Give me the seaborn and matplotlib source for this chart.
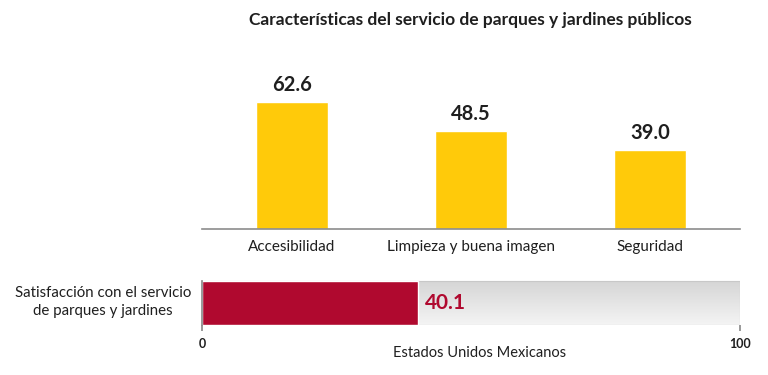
import numpy as np
import pandas as pd
import matplotlib
matplotlib.use("Agg")
import matplotlib.pyplot as plt
import seaborn as sns

categories = ["Accesibilidad", "Limpieza y buena imagen", "Seguridad"]
values = [62.6, 48.5, 39.0]
sat_label = "Satisfacción con el servicio\nde parques y jardines"
sat_value = [40.1]
sat_max = 100
xlabel = "Estados Unidos Mexicanos"
title = "Características del servicio de parques y jardines públicos"

sns.set_theme(style="white")
plt.rcParams['font.family'] = ['Lato', 'DejaVu Sans']

YELLOW = "#FFCA0A"
RED = "#B0092F"
DARK = "#1F1F1F"
GREY = "#8C8C8C"

fig = plt.figure(figsize=(7.68, 3.75), dpi=100)
W, H = 768, 375

def axrect(l, t, r, b):
    return [l / W, 1 - b / H, (r - l) / W, (b - t) / H]

# --- top chart ---
ax = fig.add_axes(axrect(202, 60, 740, 229))
df = pd.DataFrame({"cat": categories, "val": values})
sns.barplot(data=df, x="cat", y="val", color=YELLOW, width=0.4, saturation=1, ax=ax)
ax.set_ylim(0, 169 / (127 / 62.6))
ax.set_xlim(-0.5, 2.5)
for s in ["top", "right", "left"]:
    ax.spines[s].set_visible(False)
ax.spines["bottom"].set_color(GREY)
ax.spines["bottom"].set_linewidth(1.2)
ax.set_yticks([])
ax.set_xlabel("")
ax.set_ylabel("")
ax.set_xticks(range(len(categories)))
ax.set_xticklabels(categories, fontsize=11, color=DARK)
ax.tick_params(axis="x", which="major", length=0, pad=8)
ax.set_xticks([-0.5, 0.5, 1.5, 2.5], minor=True)
ax.tick_params(axis="x", which="minor", length=5, width=1.2, color=GREY, direction="out")
for i, v in enumerate(values):
    ax.annotate(f"{v:.1f}", (i, v), xytext=(0, 5), textcoords="offset points",
                ha="center", va="bottom", fontsize=14.5, fontweight="bold", color=DARK)

fig.text(470 / W, 1 - 20 / H, title, ha="center", va="center",
         fontsize=12.5, fontweight="bold", color=DARK)

# --- bottom chart ---
ax2 = fig.add_axes(axrect(202, 278, 740, 325))
grad = np.linspace(0, 1, 64).reshape(-1, 1)
ax2.imshow(grad, extent=(0, sat_max, -0.5, 0.5), aspect="auto",
           cmap=matplotlib.colors.LinearSegmentedColormap.from_list("g", ["#F4F4F4", "#D6D6D6"]),
           origin="upper", zorder=0)
ax2.add_patch(plt.Rectangle((0, -0.5), sat_max, 1, fill=False, edgecolor="#C8C8C8", lw=0.8, zorder=1))
df2 = pd.DataFrame({"lab": ["s"], "val": sat_value})
sns.barplot(data=df2, y="lab", x="val", orient="h", color=RED, width=1.0, saturation=1, ax=ax2, zorder=2)
ax2.set_xlim(0, sat_max)
ax2.set_ylim(0.5, -0.5 - 3 / 44)
for s in ["top", "right", "bottom"]:
    ax2.spines[s].set_visible(False)
ax2.spines["left"].set_color(GREY)
ax2.spines["left"].set_bounds(-0.5, 0.5)
ax2.set_yticks([-0.5, 0.5])
ax2.set_yticklabels(["", ""])
ax2.tick_params(axis="y", length=4, color=GREY, direction="out")
ax2.set_xticks([0, sat_max])
ax2.set_xticklabels(["0", str(sat_max)], fontsize=9, fontweight="bold", color=DARK)
ax2.tick_params(axis="x", length=4, color=GREY, direction="out", pad=5, bottom=True)
ax2.set_xlabel(xlabel, fontsize=10.5, color=DARK, labelpad=1)
ax2.xaxis.set_label_coords(0.515, -0.45)
ax2.set_ylabel("")
ax2.text(sat_value[0] + 1.3, 0.0, f"{sat_value[0]:.1f}", ha="left", va="center",
         fontsize=15, fontweight="bold", color=RED, zorder=3)
fig.text(103 / W, 1 - 302 / H, sat_label, ha="center", va="center",
         fontsize=10.8, color=DARK, linespacing=1.45)

fig.savefig("out.png", dpi=100)
